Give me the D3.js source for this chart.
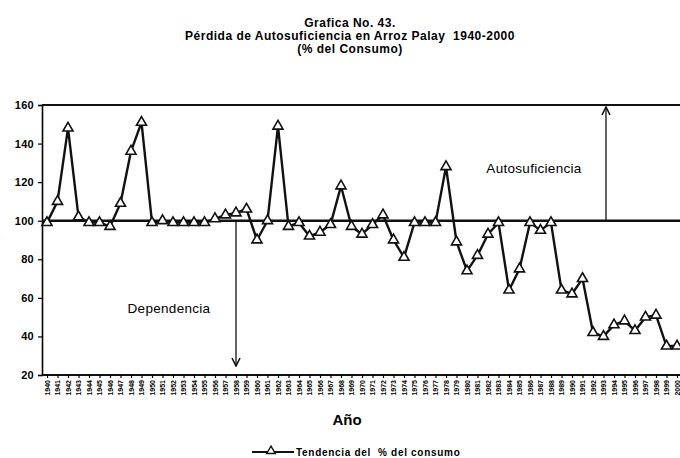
<!DOCTYPE html>
<html>
<head>
<meta charset="utf-8">
<script src="https://cdn.jsdelivr.net/npm/d3@7"></script>
<style>
  html, body { margin: 0; padding: 0; background: #fff; }
  svg { display: block; font-family: "Liberation Sans", Arial, sans-serif; }
</style>
</head>
<body>
<svg id="chart" width="680" height="458"></svg>
<script>
// Años 1940-2000 y % del consumo cubierto por la producción nacional
const years = d3.range(1940, 2001);
const pctConsumo = [
  99, 110, 148, 102, 99, 99, 97, 109, 136, 151,
  99, 100, 99, 99, 99, 99, 101, 103, 104, 106,
  90, 100, 149, 97, 99, 92, 94, 98, 118, 97,
  93, 98, 103, 90, 81, 99, 99, 99, 128, 89,
  74, 82, 93, 99, 64, 75, 99, 95, 99, 64,
  62, 70, 42, 40, 46, 48, 43, 50, 51, 35,
  35
];
const yTicks = [20, 40, 60, 80, 100, 120, 140, 160];
const titleLines = [
  "Grafica No. 43.",
  "Pérdida de Autosuficiencia en Arroz Palay  1940-2000",
  "(% del Consumo)"
];
const umbral = 100;

const svg = d3.select("#chart");
const mLeft = 42, mRight = 680, mTop = 105, mBottom = 375;

const x = d3.scalePoint().domain(years).range([47, 677]);
const y = d3.scaleLinear().domain([20, 160]).range([mBottom, mTop]);

// Títulos
svg.append("g").selectAll("text").data(titleLines).join("text")
  .attr("x", 350).attr("y", (d, i) => 27 + i * 13)
  .attr("text-anchor", "middle")
  .attr("font-size", 12).attr("font-weight", "bold")
  .attr("letter-spacing", 0.5)
  .attr("xml:space", "preserve")
  .text(d => d);

// Eje Y
const yAxis = svg.append("g")
  .attr("transform", `translate(${mLeft},0)`)
  .call(d3.axisLeft(y).tickValues(yTicks).tickSize(4).tickPadding(4));
yAxis.select(".domain").attr("stroke-width", 1.6);
yAxis.selectAll(".tick line").attr("stroke-width", 1.2);
yAxis.selectAll(".tick text")
  .attr("font-size", 11).attr("font-weight", "bold")
  .attr("letter-spacing", 0.3)
  .attr("font-family", "Liberation Sans, Arial, sans-serif");

// Marco superior e inferior
svg.append("line").attr("x1", mLeft).attr("x2", mRight)
  .attr("y1", mTop).attr("y2", mTop).attr("stroke", "#111").attr("stroke-width", 2);
svg.append("line").attr("x1", mLeft).attr("x2", mRight)
  .attr("y1", mBottom).attr("y2", mBottom).attr("stroke", "#111").attr("stroke-width", 2);

// Eje X: años rotados
const xAxis = svg.append("g")
  .attr("transform", `translate(0,${mBottom})`)
  .call(d3.axisBottom(x).tickSize(3).tickPadding(2));
xAxis.select(".domain").remove();
xAxis.selectAll(".tick line").attr("stroke-width", 1.2);
xAxis.selectAll(".tick text")
  .attr("font-size", 7).attr("font-weight", "bold")
  .attr("font-family", "Liberation Sans, Arial, sans-serif")
  .attr("transform", "rotate(-90)")
  .attr("text-anchor", "end")
  .attr("x", -5).attr("y", 0).attr("dy", "0.35em");

// Línea de autosuficiencia (100 %)
svg.append("line").attr("x1", mLeft).attr("x2", mRight)
  .attr("y1", y(umbral)).attr("y2", y(umbral))
  .attr("stroke", "#111").attr("stroke-width", 2.6);

// Flechas de Autosuficiencia / Dependencia
const defs = svg.append("defs");
defs.append("marker").attr("id", "flecha")
  .attr("viewBox", "0 0 10 10").attr("refX", 9).attr("refY", 5)
  .attr("markerWidth", 10).attr("markerHeight", 10).attr("orient", "auto-start-reverse")
  .attr("markerUnits", "userSpaceOnUse")
  .append("path").attr("d", "M1,1 L9,5 L1,9").attr("fill", "none")
  .attr("stroke", "#111").attr("stroke-width", 1.6);

svg.append("line").attr("x1", 606).attr("x2", 606)
  .attr("y1", y(umbral)).attr("y2", mTop + 2)
  .attr("stroke", "#111").attr("stroke-width", 1.3).attr("marker-end", "url(#flecha)");
svg.append("line").attr("x1", x(1958)).attr("x2", x(1958))
  .attr("y1", y(umbral)).attr("y2", 366)
  .attr("stroke", "#111").attr("stroke-width", 1.3).attr("marker-end", "url(#flecha)");

svg.append("text").attr("x", 534).attr("y", 173).attr("text-anchor", "middle")
  .attr("font-size", 13.5).attr("letter-spacing", 0.3).text("Autosuficiencia");
svg.append("text").attr("x", 169).attr("y", 313).attr("text-anchor", "middle")
  .attr("font-size", 13.5).attr("letter-spacing", 0.3).text("Dependencia");

// Serie
const datos = years.map((a, i) => ({ a, v: pctConsumo[i] }));
svg.append("path").datum(datos)
  .attr("fill", "none").attr("stroke", "#111").attr("stroke-width", 2.4)
  .attr("stroke-linejoin", "round")
  .attr("d", d3.line().x(d => x(d.a)).y(d => y(d.v)));

const tri = d3.symbol().type(d3.symbolTriangle).size(44);
svg.append("g").selectAll("path").data(datos).join("path")
  .attr("transform", d => `translate(${x(d.a)},${y(d.v)})`)
  .attr("d", tri).attr("fill", "#fff").attr("stroke", "#111").attr("stroke-width", 1.6);

// Título eje X
svg.append("text").attr("x", 347).attr("y", 425).attr("text-anchor", "middle")
  .attr("font-size", 15).attr("font-weight", "bold").text("Año");

// Leyenda
const ley = svg.append("g");
ley.append("line").attr("x1", 252).attr("x2", 294).attr("y1", 452).attr("y2", 452)
  .attr("stroke", "#111").attr("stroke-width", 1.8);
ley.append("path").attr("transform", "translate(271,451)")
  .attr("d", d3.symbol().type(d3.symbolTriangle).size(32))
  .attr("fill", "#fff").attr("stroke", "#111").attr("stroke-width", 1.4);
ley.append("text").attr("x", 296).attr("y", 455.5)
  .attr("font-size", 10).attr("font-weight", "bold")
  .attr("letter-spacing", 0.7)
  .attr("xml:space", "preserve")
  .text("Tendencia del  % del consumo");
</script>
</body>
</html>
